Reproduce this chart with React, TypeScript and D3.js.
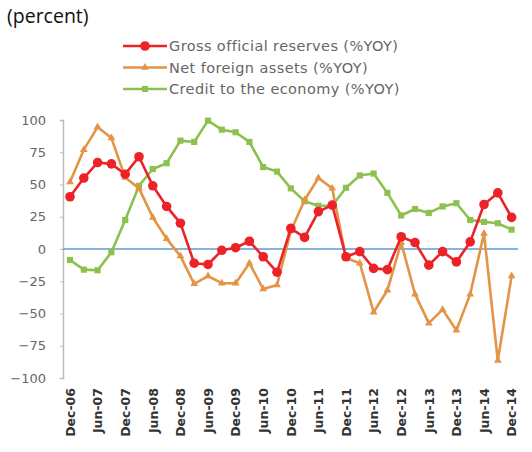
import { useEffect, useRef } from "react";
import * as d3 from "d3";

// quarterly observations, Dec-06 .. Dec-14
const quarters = [
  "Dec-06", "Mar-07", "Jun-07", "Sep-07", "Dec-07", "Mar-08", "Jun-08", "Sep-08",
  "Dec-08", "Mar-09", "Jun-09", "Sep-09", "Dec-09", "Mar-10", "Jun-10", "Sep-10",
  "Dec-10", "Mar-11", "Jun-11", "Sep-11", "Dec-11", "Mar-12", "Jun-12", "Sep-12",
  "Dec-12", "Mar-13", "Jun-13", "Sep-13", "Dec-13", "Mar-14", "Jun-14", "Sep-14",
  "Dec-14",
];

const grossReserves = [
  40.5, 55, 67, 66, 58, 71.5, 49, 33, 20, -11, -12, -1, 1, 6, -6, -18,
  16, 9, 29, 34, -6, -2, -15, -16, 9.5, 5, -12.5, -2, -10, 5.5, 34.5, 43.5,
  24.5,
];

const netForeignAssets = [
  52, 77, 94.5, 86, 55.5, 47, 24.5, 8, -5.5, -27, -21, -26.5, -26.5, -11, -31, -28,
  14, 38, 55, 47, -7, -11, -49, -32, 5, -35, -57.5, -47, -63, -35, 12, -86.5,
  -21,
];

const creditToEconomy = [
  -8.5, -16, -16.5, -2.5, 22.5, 49, 62, 66.5, 84, 83, 99.5, 92.5, 90.5, 83, 63.5, 60,
  47, 37, 33.5, 33.5, 47.5, 57, 58.5, 43.5, 26, 31, 28, 33, 35.5, 22.5, 21, 20,
  15,
];

const yTicks = [100, 75, 50, 25, 0, -25, -50, -75, -100];
const xTickLabels = quarters.filter((_, i) => i % 2 === 0);

const seriesNames = [
  "Gross official reserves (%YOY)",
  "Net foreign assets (%YOY)",
  "Credit to the economy (%YOY)",
];

const W = 532;
const H = 452;

export default function App() {
  const svgRef = useRef<SVGSVGElement>(null);

  useEffect(() => {
    if (!svgRef.current) return;
    const svg = d3.select(svgRef.current);
    svg.selectAll("*").remove();

    const x = d3.scalePoint<string>().domain(quarters).range([70, 511.6]);
    const y = d3.scaleLinear().domain([-100, 100]).range([378, 120]);

    const series = [
      { name: seriesNames[0], values: grossReserves, color: "#ec2227", marker: "circle" },
      { name: seriesNames[1], values: netForeignAssets, color: "#e39444", marker: "triangle" },
      { name: seriesNames[2], values: creditToEconomy, color: "#8cc04f", marker: "square" },
    ];

    // Title
    svg.append("text")
      .attr("x", 7)
      .attr("y", 23)
      .attr("font-family", "'Open Sans', sans-serif")
      .attr("font-size", 19.5)
      .attr("fill", "#111")
      .text("(percent)");

    // Y axis
    const yAxis = svg.append("g")
      .attr("transform", "translate(63,0)")
      .call(d3.axisLeft(y).tickValues(yTicks).tickSize(3).tickPadding(14).tickFormat(d3.format("d")));
    yAxis.select(".domain").attr("stroke", "#bbb").attr("stroke-width", 1.5);
    yAxis.selectAll("line").attr("stroke", "#bbb");
    yAxis.selectAll("text")
      .attr("fill", "#666")
      .attr("font-family", "'DejaVu Sans', sans-serif")
      .attr("font-size", 13);

    // X labels, rotated
    const xAxis = svg.append("g")
      .attr("transform", "translate(0,380)")
      .call(d3.axisBottom(x).tickValues(xTickLabels).tickSize(0).tickPadding(0));
    xAxis.select(".domain").remove();
    xAxis.selectAll("text")
      .attr("transform", "rotate(-90)")
      .attr("text-anchor", "end")
      .attr("x", -8)
      .attr("y", 0)
      .attr("dy", "0.35em")
      .attr("fill", "#333")
      .attr("font-weight", "bold")
      .attr("font-family", "'DejaVu Sans', sans-serif")
      .attr("font-size", 12.5);

    // Zero line
    svg.append("line")
      .attr("x1", 63)
      .attr("x2", 518)
      .attr("y1", y(0))
      .attr("y2", y(0))
      .attr("stroke", "#5b9bd5")
      .attr("stroke-width", 1.5);

    const drawMarker = (
      g: d3.Selection<SVGGElement, unknown, null, undefined>,
      kind: string,
      cx: number,
      cy: number,
      color: string,
    ) => {
      if (kind === "circle") {
        g.append("circle").attr("cx", cx).attr("cy", cy).attr("r", 4.8).attr("fill", color);
      } else if (kind === "triangle") {
        g.append("path")
          .attr("d", d3.symbol().type(d3.symbolTriangle).size(26)())
          .attr("transform", `translate(${cx},${cy})`)
          .attr("fill", color);
      } else {
        g.append("path")
          .attr("d", d3.symbol().type(d3.symbolSquare).size(38)())
          .attr("transform", `translate(${cx},${cy})`)
          .attr("fill", color);
      }
    };

    // Draw green first, then orange, then red on top
    [2, 1, 0].forEach((si) => {
      const s = series[si];
      const g = svg.append("g");
      const line = d3.line<number>()
        .x((_, i) => x(quarters[i]) ?? 0)
        .y((d) => y(d));
      g.append("path")
        .datum(s.values)
        .attr("fill", "none")
        .attr("stroke", s.color)
        .attr("stroke-width", 2.6)
        .attr("stroke-linejoin", "round")
        .attr("d", line);
      s.values.forEach((v, i) => drawMarker(g, s.marker, x(quarters[i]) ?? 0, y(v), s.color));
    });

    // Legend
    const legend = svg.append("g");
    series.forEach((s, i) => {
      const ly = 46 + i * 21.5;
      const row = legend.append("g");
      row.append("line")
        .attr("x1", 123)
        .attr("x2", 167)
        .attr("y1", ly)
        .attr("y2", ly)
        .attr("stroke", s.color)
        .attr("stroke-width", 2.6);
      drawMarker(row, s.marker, 145, ly, s.color);
      row.append("text")
        .attr("x", 169)
        .attr("y", ly)
        .attr("dy", "0.35em")
        .attr("fill", "#666")
        .attr("font-family", "'DejaVu Sans', sans-serif")
        .attr("font-size", 14.5)
        .attr("letter-spacing", 0.4)
        .text(s.name);
    });
  }, []);

  return (
    <svg
      ref={svgRef}
      width={W}
      height={H}
      style={{ position: "absolute", left: 0, top: 0, background: "#fff" }}
    />
  );
}
